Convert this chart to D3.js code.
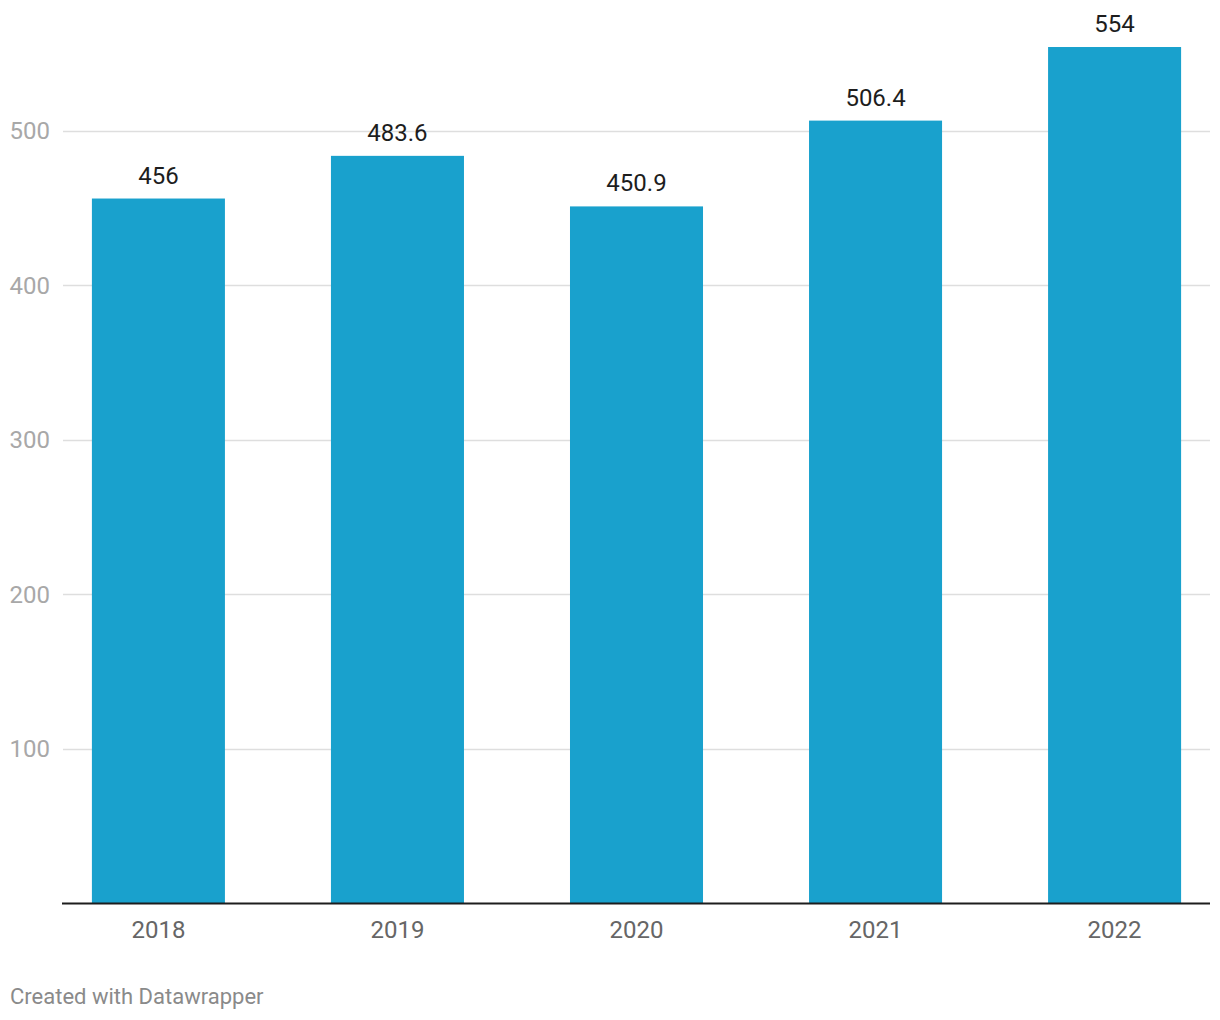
<!DOCTYPE html>
<html><head><meta charset="utf-8">
<script src="https://cdn.jsdelivr.net/npm/d3@7"></script>
<style>
body{margin:0;background:#fff;}
text{font-family:Roboto,"Noto Sans",sans-serif;}
</style></head>
<body>
<svg id="chart" width="1220" height="1020"></svg>
<script>
const categories = ["2018","2019","2020","2021","2022"];
const values = [456, 483.6, 450.9, 506.4, 554];
const valueLabels = ["456","483.6","450.9","506.4","554"];
const yTicks = [100,200,300,400,500];

(function(){
const svg = d3.select("#chart");
const mLeft = 62.5, mRight = 1210.5, mBottom = 903.5;
const y = d3.scaleLinear().domain([0,500]).range([mBottom,130.5]);
const x = d3.scaleBand().domain(categories).range([mLeft,mRight]).paddingInner(0.4435).paddingOuter(0.123);

// gridlines
svg.append("g").selectAll("line").data(yTicks).join("line")
  .attr("x1",63).attr("x2",1210)
  .attr("y1",d=>Math.round(y(d))+0.5).attr("y2",d=>Math.round(y(d))+0.5)
  .attr("stroke","#dedede").attr("stroke-width",1.5);
svg.append("g").selectAll("text").data(yTicks).join("text")
  .attr("x",50).attr("y",d=>y(d)+8.5)
  .attr("text-anchor","end").attr("font-size",24).attr("fill","#a8a8a8")
  .text(d=>d);

// bars
svg.append("g").selectAll("rect").data(categories).join("rect")
  .attr("x",d=>x(d)).attr("width",x.bandwidth())
  .attr("y",(d,i)=>y(values[i])).attr("height",(d,i)=>mBottom-y(values[i]))
  .attr("fill","#19a1cd");

// value labels
svg.append("g").selectAll("text").data(categories).join("text")
  .attr("x",d=>x(d)+x.bandwidth()/2).attr("y",(d,i)=>y(values[i])-15)
  .attr("text-anchor","middle").attr("font-size",24).attr("fill","#1d1d1d")
  .text((d,i)=>valueLabels[i]);

// baseline
svg.append("line").attr("x1",62).attr("x2",1210)
  .attr("y1",mBottom).attr("y2",mBottom).attr("stroke","#1d1d1d").attr("stroke-width",2);

// x labels
svg.append("g").selectAll("text").data(categories).join("text")
  .attr("x",d=>x(d)+x.bandwidth()/2).attr("y",938)
  .attr("text-anchor","middle").attr("font-size",24).attr("fill","#666")
  .text(d=>d);

svg.append("text").attr("x",10).attr("y",1004).attr("font-size",22).attr("fill","#8a8a8a")
  .text("Created with Datawrapper");
})();
</script>
</body></html>
